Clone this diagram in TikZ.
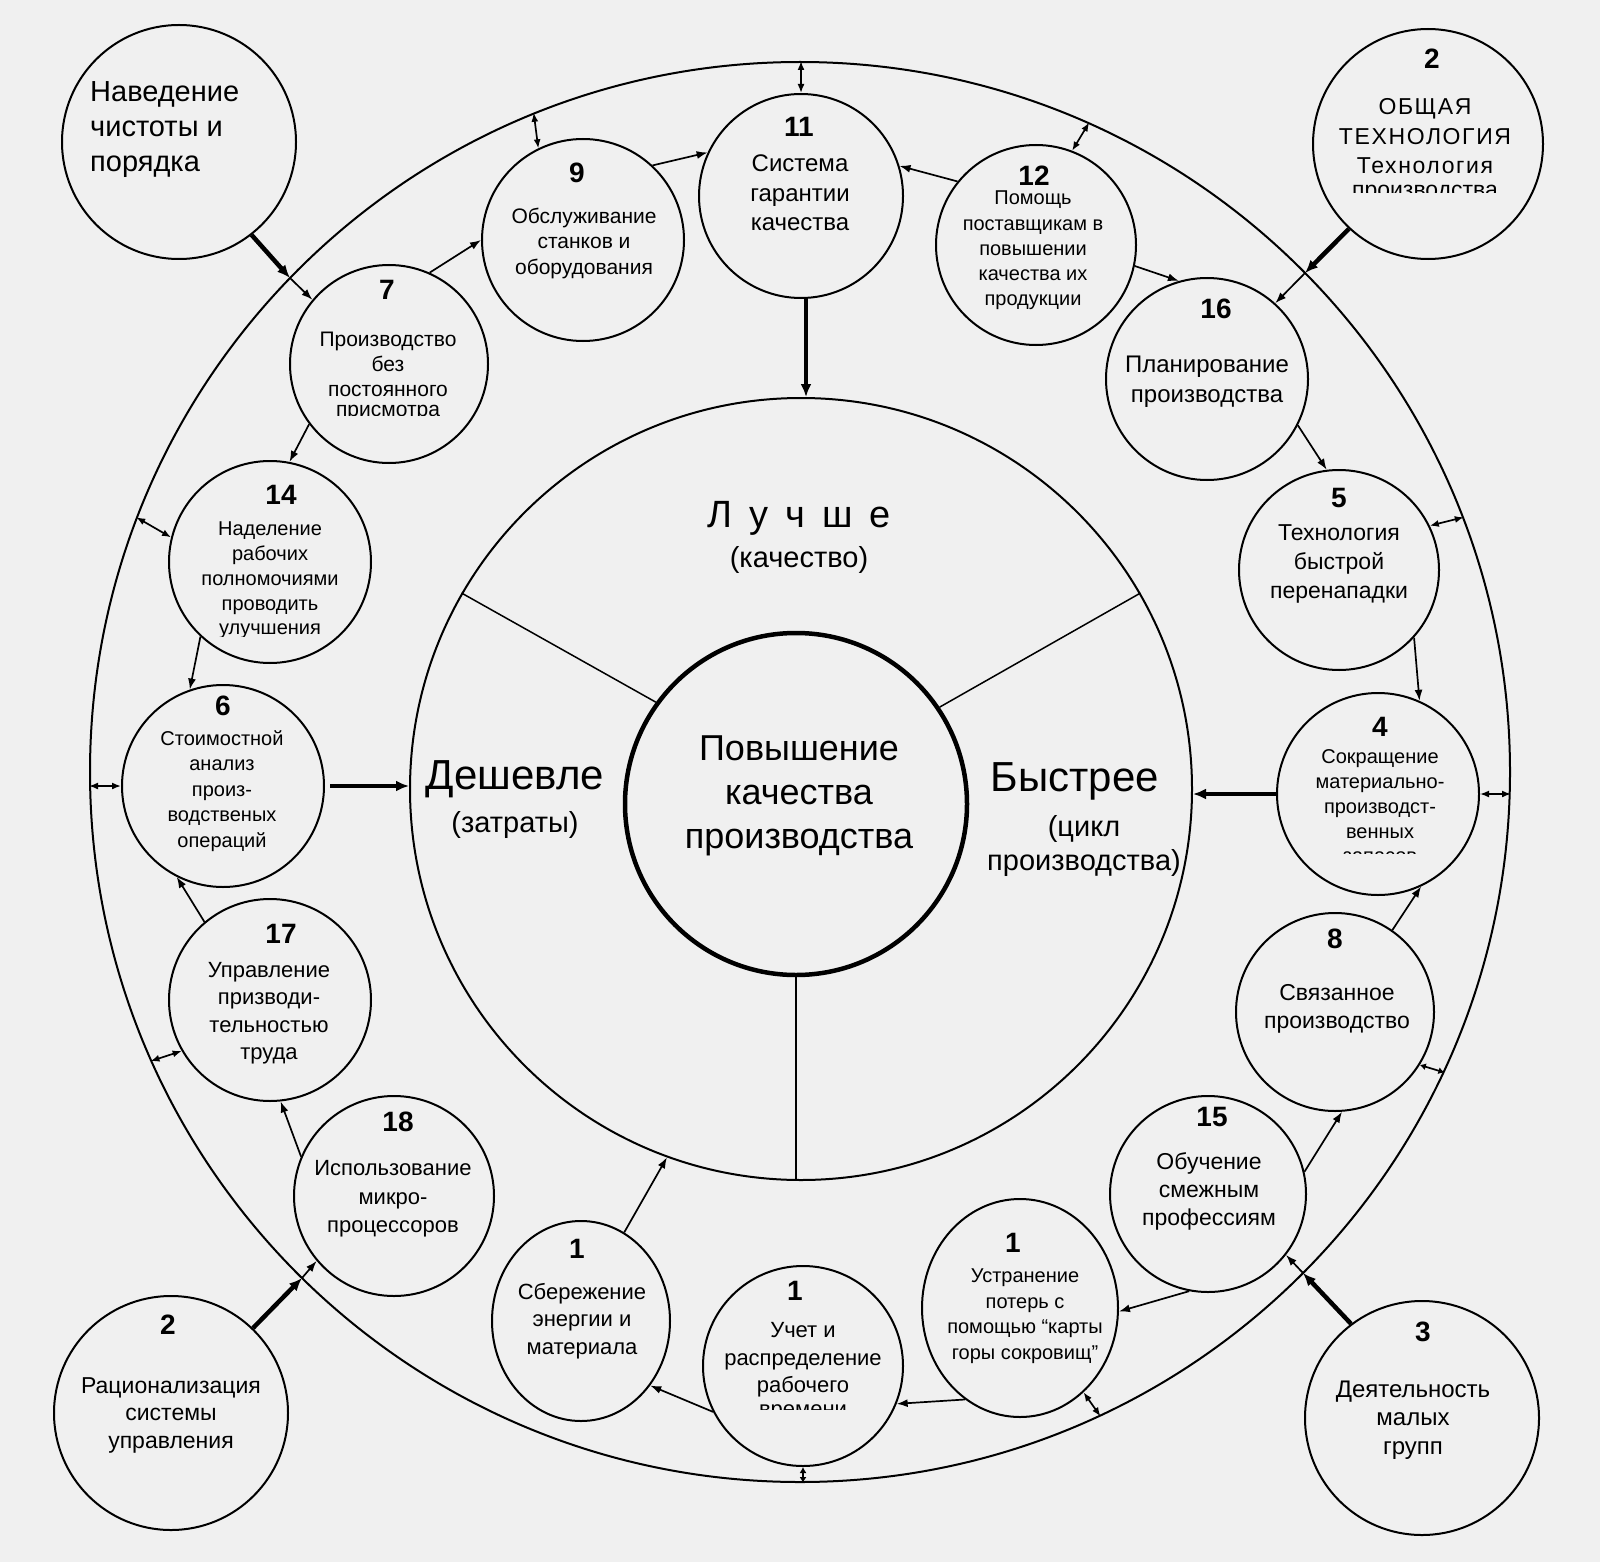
\documentclass[tikz,border=0pt]{standalone}
\usepackage{fontspec}
\setmainfont{Liberation Sans}
\usetikzlibrary{arrows.meta,shapes.geometric,calc}
\newcommand{\fsz}[2]{\fontsize{#1}{#2}\selectfont}
\newcommand{\widesp}{\spaceskip=0.45em\relax}
\begin{document}
\begin{tikzpicture}[x=1pt,y=-1pt,
  sc/.style={circle,draw,line width=2pt,inner sep=0pt},
  el/.style={ellipse,draw,line width=2pt,inner sep=0pt},
  num/.style={font=\fsz{28}{30}\bfseries,inner sep=0pt},
  txt/.style={align=center,inner sep=0pt},
  con/.style={line width=1.7pt,-{Latex[length=11pt,width=8pt]}},
  heavy/.style={line width=4.5pt,-{Latex[length=13pt,width=11pt]}},
  dbl/.style={line width=1.7pt,{Latex[length=9pt,width=7pt]}-{Latex[length=9pt,width=7pt]}},
  dbls/.style={line width=1.7pt,{Latex[length=6pt,width=7pt]}-{Latex[length=6pt,width=7pt]}},
  spoke/.style={line width=1.5pt},
]
\useasboundingbox (0,0) rectangle (1600,1562);
\fill[black!6] (0,0) rectangle (1600,1562);

% big circles
\node[sc,minimum size=1420pt] (outer) at (800,772) {};
\node[sc,minimum size=782pt] (mid) at (801,789) {};
\node[circle,draw,line width=4.5pt,inner sep=0pt,minimum size=342pt] (inner) at (796,804) {};

\draw[spoke] (inner.144) -- (mid.150);
\draw[spoke] (inner.34) -- (mid.30.5);
\draw[spoke] (inner.south) -- (inner.south |- mid.south);

% central texts
\node[txt,font=\fsz{36}{44}] (t0) at (799,796) {Повышение\\качества\\производства};
\node[txt,font=\fsz{38}{44}] (tl) at (799,518) {\widesp Л у ч ш е};
\node[txt,font=\fsz{29}{34}] (tlk) at (799,560) {(качество)};
\node[txt,font=\fsz{42}{46}] (td) at (515,779) {Дешевле};
\node[txt,font=\fsz{29}{34}] (tdz) at (515,825) {(затраты)};
\node[txt,font=\fsz{42}{46}] (tb) at (1075,781) {Быстрее};
\node[txt,font=\fsz{29}{34}] (tbc) at (1084,846) {(цикл\\производства)};

% small circles
\node[sc,minimum size=204pt] (c11) at (801,196) {};
\node[num] (n11) at (799,127) {11};
\node[txt,font=\fsz{24}{29.6}] (t11) at (800,193) {Система\\гарантии\\качества};

\node[sc,minimum size=202pt] (c9) at (583,240) {};
\node[num] (n9) at (577,173) {9};
\node[txt,font=\fsz{21}{25.5}] (t9) at (584,243) {Обслуживание\\станков и\\оборудования};

\node[sc,minimum size=198pt] (c7) at (389,364) {};
\node[num] (n7) at (387,290) {7};
\node[txt,font=\fsz{21}{25}] (t7) at (388,364) {Производство\\без\\постоянного};
\begin{scope}
\clip (300,398) rectangle (480,415);
\node[txt,font=\fsz{21}{25}] (t7b) at (388,413) {присмотра};
\end{scope}

\node[sc,minimum size=200pt] (c12) at (1036,245) {};
\node[num] (n12) at (1034,176) {12};
\node[txt,font=\fsz{20}{25.2}] (t12) at (1033,250.5) {Помощь\\поставщикам в\\повышении\\качества их\\продукции};

\node[sc,minimum size=202pt] (c16) at (1207,379) {};
\node[num] (n16) at (1216,309) {16};
\node[txt,font=\fsz{24}{30}] (t16) at (1207,382) {Планирование\\производства};

\node[sc,minimum size=200pt] (c5) at (1339,570) {};
\node[num] (n5) at (1339,498) {5};
\node[txt,font=\fsz{23}{28.6}] (t5) at (1339,564) {Технология\\быстрой\\перенападки};

\node[sc,minimum size=202pt] (c4) at (1378,794) {};
\node[num] (n4) at (1380,727) {4};
\node[txt,font=\fsz{20}{25.2}] (t4) at (1380,794) {Сокращение\\материально-\\производст-\\венных};
\begin{scope}
\clip (1300,843) rectangle (1460,853);
\node[txt,font=\fsz{20}{25.2}] (t4b) at (1380,857) {запасов};
\end{scope}

\node[sc,minimum size=198pt] (c8) at (1335,1012) {};
\node[num] (n8) at (1335,939) {8};
\node[txt,font=\fsz{23}{28.6}] (t8) at (1337,1009) {Связанное\\производство};

\node[sc,minimum size=196pt] (c15) at (1208,1194) {};
\node[num] (n15) at (1212,1117) {15};
\node[txt,font=\fsz{23}{28}] (t15) at (1209,1191) {Обучение\\смежным\\профессиям};

\node[el,minimum width=196pt,minimum height=218pt] (cU) at (1020,1308) {};
\node[num] (nU) at (1013,1243) {1};
\node[txt,font=\fsz{20}{25.5}] (tU) at (1025,1316) {Устранение\\потерь с\\помощью “карты\\горы сокровищ”};

\node[sc,minimum size=200pt] (cT) at (803,1366) {};
\node[num] (nT) at (795,1291) {1};
\node[txt,font=\fsz{22}{27.5}] (tT) at (803,1360) {Учет и\\распределение\\рабочего};
\begin{scope}
\clip (720,1398) rectangle (890,1409);
\node[txt,font=\fsz{22}{27.5}] (tTb) at (803,1413) {времени};
\end{scope}

\node[el,minimum width=178pt,minimum height=200pt] (cS) at (581,1321) {};
\node[num] (nS) at (577,1249) {1};
\node[txt,font=\fsz{22}{27.5}] (tS) at (582,1321) {Сбережение\\энергии и\\материала};

\node[sc,minimum size=200pt] (c18) at (394,1196) {};
\node[num] (n18) at (398,1122) {18};
\node[txt,font=\fsz{22}{28.5}] (t18) at (393,1199) {Использование\\микро-\\процессоров};

\node[sc,minimum size=202pt] (c17) at (270,1000) {};
\node[num] (n17) at (281,934) {17};
\node[txt,font=\fsz{22}{27.5}] (t17) at (269,1013) {Управление\\призводи-\\тельностью\\труда};

\node[sc,minimum size=202pt] (c6) at (223,786) {};
\node[num] (n6) at (223,706) {6};
\node[txt,font=\fsz{20}{25.5}] (t6) at (222,791) {Стоимостной\\анализ\\произ-\\водственых\\операций};

\node[sc,minimum size=202pt] (c14) at (270,562) {};
\node[num] (n14) at (281,495) {14};
\node[txt,font=\fsz{20}{24.8}] (t14) at (270,568) {Наделение\\рабочих\\полномочиями\\проводить};
\begin{scope}
\clip (180,615) rectangle (360,636);
\node[txt,font=\fsz{20}{24.8}] (t14b) at (270,631) {улучшения};
\end{scope}

% outer circles
\node[sc,minimum size=234pt] (cNav) at (179,142) {};
\node[txt,align=left,anchor=west,font=\fsz{29}{35}] (tNav) at (90,129.5) {Наведение\\чистоты и\\порядка};

\node[sc,minimum size=230pt] (c2a) at (1428,144) {};
\node[num] (n2a) at (1432,59) {2};
\node[txt,font=\fsz{23}{29.5}\addfontfeature{LetterSpace=7}] (t2a) at (1425,136.5) {ОБЩАЯ\\ТЕХНОЛОГИЯ\\Технология};
\begin{scope}
\clip (1330,178) rectangle (1530,193);
\node[txt,font=\fsz{23}{29.5}] (t2ab) at (1425,194) {производства};
\end{scope}

\node[sc,minimum size=234pt] (c2b) at (171,1413) {};
\node[num] (n2b) at (168,1325) {2};
\node[txt,font=\fsz{23}{27.5}] (t2b) at (171,1415) {Рационализация\\системы\\управления};

\node[sc,minimum size=234pt] (c3) at (1422,1418) {};
\node[num] (n3) at (1423,1332) {3};
\node[txt,font=\fsz{24}{28.5}] (t3) at (1413,1420) {Деятельность\\малых\\групп};

% crossing points on the outer circle
\coordinate (x1) at (290,278);
\coordinate (x2) at (1305,273);
\coordinate (x3) at (1303,1273);
\coordinate (x4) at (302,1278);

% thin connectors
\draw[con] (c7.66) -- (c9.180);
\draw[con] (c9.47) -- (c11.155);
\draw[con] (c12.141) -- (c11.17);
\draw[con] (c12.-12) -- (c16.106);
\draw[con] (c16.-27) -- (c5.97);
\draw[con] (c5.-42) -- (c4.66);
\draw[con] (c8.55) -- (c4.-65);
\draw[con] (c15.13) -- (c8.-86);
\draw[con] (c15.-101) -- (cU.-2);
\draw[con] (cU.-121) -- (cT.-22);
\draw[con] (cT.207) -- (cS.-43);
\draw[con] (cS.64) -- (mid.250);
\draw[con] (c18.157) -- (c17.-84);
\draw[con] (c17.130) -- (c6.243);
\draw[con] (c14.227) -- (c6.109);
\draw[con] (c7.217) -- (c14.79);

% heavy connectors from outer circles
\draw[heavy] (cNav.-52) -- (x1);
\draw[con] (x1) -- (c7.140);
\draw[heavy] (c2a.-133) -- (x2);
\draw[con] (x2) -- (c16.48.5);
\draw[heavy] (c3.127) -- (x3);
\draw[con] (x3) -- (c15.-38.5);
\draw[heavy] (c2b.46) -- (x4);
\draw[con] (x4) -- (c18.220);

% heavy arrows into the middle ring
\draw[heavy] ($(c11.south)+(5,0)$) -- ($(c11.south |- mid.north)+(5,0)$);
\draw[heavy,shorten <=5pt] (c6.east) -- (c6.east -| mid.west);
\draw[heavy] (c4.west) -- (c4.west -| mid.east);

% double arrows to the outer circle
\draw[dbl] (c11.north) -- (c11.north |- outer.north);
\draw[dbl] (c9.116) -- (outer.112.5);
\draw[dbl] (c12.69) -- (outer.66.2);
\draw[dbl] (c5.26.6) -- (outer.21.5);
\draw[dbl] (c4.east) -- (c4.east -| outer.east);
\draw[dbls] (c8.-32) -- (outer.-25.5);
\draw[dbl] (cU.-53) -- (outer.-65.3);
\draw[dbls] (cT.south) -- (cT.south |- outer.south);
\draw[dbl] (c17.210) -- (outer.204.4);
\draw[dbl] (c6.west) -- (c6.west -| outer.west);
\draw[dbl] (c14.166.8) -- (outer.159.7);
\end{tikzpicture}
\end{document}
